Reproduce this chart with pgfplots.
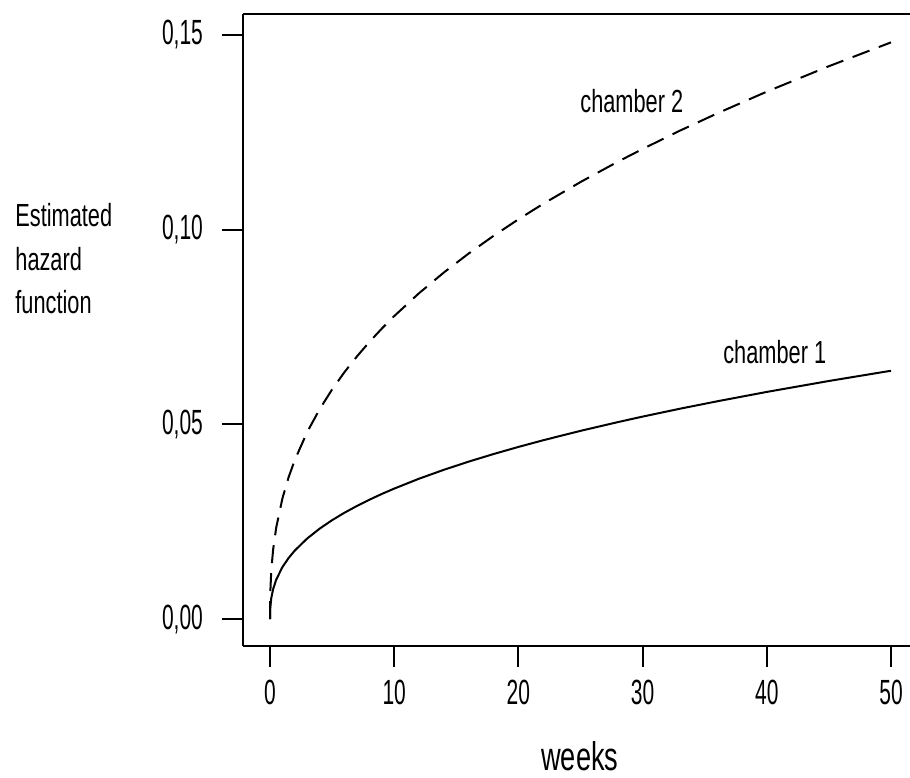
\documentclass[border=0pt]{standalone}
\usepackage{fontspec}
\setmainfont{Liberation Sans}[FakeStretch=0.68]
\newfontfamily\tickfont{Liberation Sans}[FakeStretch=0.6]
\usepackage{pgfplots}
\pgfplotsset{compat=1.18}
\begin{document}
\begin{tikzpicture}
\useasboundingbox (-121.5pt,-65.5pt) rectangle (333.5pt,323pt);
\begin{axis}[
  at={(0pt,0pt)}, anchor=south west, scale only axis,
  width=333.5pt, height=316pt,
  xmin=-2.174, xmax=51.53, ymin=-0.00693, ymax=0.1554,
  axis x line=box, axis y line=left,
  axis line style={-, line width=1pt, black},
  every outer x axis line/.append style={-},
  every outer y axis line/.append style={-},
  xtick pos=bottom, ytick pos=left,
  tick align=outside, major tick length=10.5pt,
  tick style={line width=1pt, black},
  xtick={0,10,20,30,40,50}, xticklabels={0,10,20,30,40,50},
  ytick={0,0.05,0.1,0.15}, yticklabels={{0,00},{0,05},{0,10},{0,15}},
  ticklabel style={font=\tickfont\fontsize{17.5}{17.5}\selectfont},
  yticklabel style={xshift=-6pt},
  xticklabel style={yshift=-3pt},
  clip=false,
]
\addplot[black, line width=1pt] coordinates {
(0,0) (0.02,0.00279) (0.1,0.00531) (0.25,0.00766) (0.5,0.01011) (1,0.01334)
(1.5,0.01568) (2,0.01760) (3,0.02070) (4,0.02322) (5,0.02539) (6,0.02731)
(7,0.02904) (8,0.03064) (9,0.03212) (10,0.0335) (12,0.03604) (14,0.03833)
(16,0.04043) (18,0.04238) (20,0.04420) (22,0.04592) (25,0.04833) (28,0.05057)
(30,0.05199) (33,0.05401) (36,0.05592) (40,0.05833) (45,0.06114) (50,0.06377)
};
\addplot[black, line width=1pt, dash pattern=on 9pt off 5pt] coordinates {
(0,0) (0.02,0.00648) (0.1,0.01233) (0.25,0.01779) (0.5,0.02347) (1,0.03097)
(1.5,0.03643) (2,0.04087) (3,0.04806) (4,0.05392) (5,0.05896) (6,0.06343)
(7,0.06745) (8,0.07116) (9,0.07459) (10,0.0778) (12,0.08369) (14,0.08901)
(16,0.09389) (18,0.09842) (20,0.10266) (22,0.10665) (25,0.11224) (28,0.11745)
(30,0.12073) (33,0.12543) (36,0.12986) (40,0.13546) (45,0.14199) (50,0.14811)
};
\node[anchor=base west, inner sep=0pt, font=\fontsize{16}{16}\selectfont] at (axis cs:24.96,0.1300) {chamber 2};
\node[anchor=base west, inner sep=0pt, font=\fontsize{16}{16}\selectfont] at (axis cs:36.47,0.0657) {chamber 1};
\node[anchor=base west, inner sep=0pt, font=\fontsize{16}{16}\selectfont] at (axis cs:-20.53,0.1009) {Estimated};
\node[anchor=base west, inner sep=0pt, font=\fontsize{16}{16}\selectfont] at (axis cs:-20.53,0.0896) {hazard};
\node[anchor=base west, inner sep=0pt, font=\fontsize{16}{16}\selectfont] at (axis cs:-20.53,0.0786) {function};
\node[anchor=base, inner sep=0pt, font=\fontsize{20}{20}\selectfont] at ([yshift=-62pt]rel axis cs:0.505,0) {weeks};
\end{axis}
\end{tikzpicture}
\end{document}
